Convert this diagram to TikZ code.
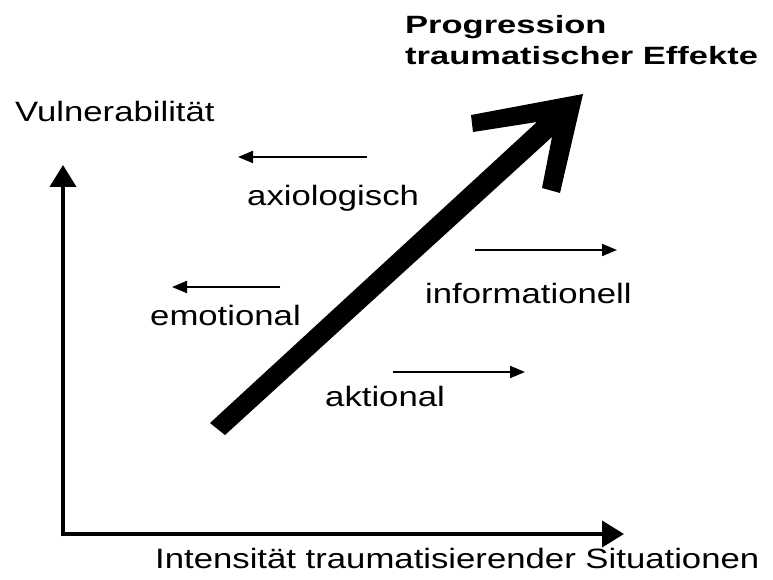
\documentclass[tikz,border=0pt]{standalone}
\usepackage{fontspec}
\setmainfont{Liberation Sans}
\newfontfamily\lblfont[FakeStretch=1.24]{Liberation Sans}
\newfontfamily\ttlfont[FakeStretch=1.38]{Liberation Sans Bold}
\usetikzlibrary{arrows.meta}
\tikzset{
  lbl/.style={inner sep=0pt, anchor=base west, font=\lblfont\fontsize{28}{34}\selectfont},
  ttl/.style={inner sep=0pt, anchor=north west, align=left, font=\ttlfont\fontsize{25}{31}\selectfont},
  axisline/.style={line width=4pt, -{Triangle[length=22pt,width=26pt]}},
  smallarrow/.style={line width=2pt, -{Triangle[length=15pt,width=12pt]}},
}
\begin{document}
\begin{tikzpicture}[x=1pt,y=-1pt]
\useasboundingbox (0,0) rectangle (773,580);
% axes
\coordinate (origin) at (63,534);
\coordinate (ytip) at (63,165);
\coordinate (xtip) at (624,534);
\draw[axisline] ([xshift=0pt,yshift=-2pt]origin) -- (ytip);
\draw[axisline] ([xshift=-2pt]origin) -- (xtip);
% axis labels
\node[lbl] (vuln) at (15,122) {Vulnerabilität};
\node[lbl] (intens) at (155,568) {Intensität traumatisierender Situationen};
% big arrow
\fill[black] (210,423) -- (537,122) -- (473,132) -- (471,115) -- (583,94)
  -- (560,193) -- (542,188) -- (552,137) -- (225,435) -- cycle;
\node[ttl] (prog) at (405,15) {Progression\\traumatischer Effekte};
% labels
\node[lbl] (axio) at (247,205) {axiologisch};
\node[lbl] (emo) at (150,325) {emotional};
\node[lbl] (info) at (425,303) {informationell};
\node[lbl] (akt) at (325,406) {aktional};
% small arrows
\coordinate (axioT) at (367,157); \coordinate (axioH) at (238,157);
\coordinate (emoT) at (280,287); \coordinate (emoH) at (172,287);
\coordinate (infoT) at (475,250); \coordinate (infoH) at (617,250);
\coordinate (aktT) at (393,372); \coordinate (aktH) at (525,372);
\draw[smallarrow] (axioT) -- (axioH);
\draw[smallarrow] (emoT) -- (emoH);
\draw[smallarrow] (infoT) -- (infoH);
\draw[smallarrow] (aktT) -- (aktH);
\end{tikzpicture}
\end{document}
